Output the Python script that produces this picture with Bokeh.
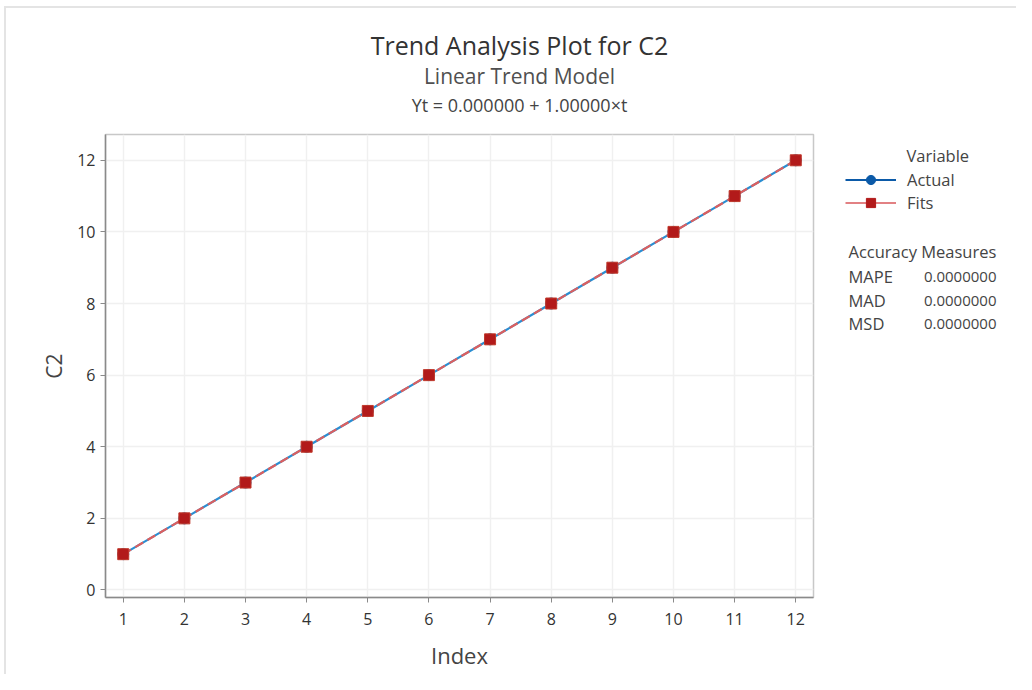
from bokeh.plotting import figure
from bokeh.layouts import column, row
from bokeh.models import Range1d, Legend, LegendItem, ColumnDataSource, FixedTicker
from bokeh.core.properties import value
from bokeh.embed import file_html
from bokeh.resources import INLINE

# ---- data ----
index = [1, 2, 3, 4, 5, 6, 7, 8, 9, 10, 11, 12]
actual = [1, 2, 3, 4, 5, 6, 7, 8, 9, 10, 11, 12]
fits = [1, 2, 3, 4, 5, 6, 7, 8, 9, 10, 11, 12]
x_ticks = [1, 2, 3, 4, 5, 6, 7, 8, 9, 10, 11, 12]
y_ticks = [0, 2, 4, 6, 8, 10, 12]
title_lines = ["Trend Analysis Plot for C2", "Linear Trend Model", "Yt = 0.000000 + 1.00000\u00d7t"]
series_names = ["Actual", "Fits"]
legend_title = "Variable"
measures_title = "Accuracy Measures"
measure_names = ["MAPE", "MAD", "MSD"]
measure_values = ["0.0000000", "0.0000000", "0.0000000"]

FONT = "Open Sans"
OX, OY = 6, 8            # offset of content inside the light frame border
RIGHT = 1016             # right edge of content
TOP_B = 126              # bottom of title strip
MAIN_R = 830             # right edge of main figure
BOTTOM = 674
FRAME_L, FRAME_T, FRAME_R, FRAME_B = 105, 134, 813, 597


def blank(width, height, xr, yr, **kw):
    f = figure(width=width, height=height, output_backend="svg", toolbar_location=None,
               x_range=xr, y_range=yr, x_axis_type=None, y_axis_type=None, **kw)
    f.outline_line_color = None
    f.grid.visible = False
    f.background_fill_color = "white"
    f.border_fill_color = "white"
    return f

# ---- title strip ----
top = blank(RIGHT - OX, TOP_B - OY, Range1d(OX, RIGHT), Range1d(TOP_B, OY), min_border=0)
tsrc = ColumnDataSource(dict(x=[519, 519, 519], y=[44, 75, 104], t=title_lines,
                             s=["25px", "21px", "18px"], c=["#333333", "#505050", "#444444"]))
top.text("x", "y", text="t", source=tsrc, text_font=value(FONT), text_font_size="s",
         text_color="c", text_align="center", text_baseline="middle")

# ---- main plot ----
p = figure(width=MAIN_R - OX, height=BOTTOM - TOP_B, output_backend="svg", toolbar_location=None,
           x_range=Range1d(0.71, 12.29), y_range=Range1d(-0.21, 12.72),
           min_border_left=FRAME_L - OX, min_border_right=MAIN_R - FRAME_R,
           min_border_top=FRAME_T - TOP_B, min_border_bottom=BOTTOM - FRAME_B)
p.background_fill_color = "white"
p.border_fill_color = "white"
p.outline_line_color = "#c8c8c8"
p.outline_line_width = 1.5

for ax in (p.xaxis[0], p.yaxis[0]):
    ax.axis_line_color = "#8a8a8a"
    ax.axis_line_width = 1.5
    ax.major_tick_line_color = "#8a8a8a"
    ax.major_tick_out = 5
    ax.major_tick_in = 0
    ax.minor_tick_line_color = None
    ax.major_label_text_font = FONT
    ax.major_label_text_font_size = "16px"
    ax.major_label_text_color = "#333333"
    ax.axis_label_text_font = FONT
    ax.axis_label_text_font_style = "normal"
    ax.axis_label_text_color = "#444444"

p.xaxis.axis_label_text_font_size = "22px"
p.yaxis.axis_label_text_font_size = "21px"
p.xaxis.ticker = FixedTicker(ticks=x_ticks)
p.yaxis.ticker = FixedTicker(ticks=y_ticks)
p.xaxis.axis_label = "Index"
p.yaxis.axis_label = "C2"
p.xaxis.axis_label_standoff = 12
p.yaxis.axis_label_standoff = 6
p.xaxis.major_label_standoff = 10
p.yaxis.major_label_standoff = 5

p.xgrid.grid_line_color = "#f0f0f0"
p.ygrid.grid_line_color = "#f0f0f0"
p.xgrid.grid_line_width = 1.5
p.ygrid.grid_line_width = 1.5

src = ColumnDataSource(dict(x=index, a=actual, f=fits))
p.line("x", "a", source=src, line_color="#2a8ed2", line_width=2.2)
p.scatter("x", "a", source=src, marker="circle", size=11, fill_color="#0b5aa8", line_color="#0b5aa8")
p.line("x", "f", source=src, line_color="#dc5f5f", line_width=2.2, line_dash="9 5")
p.scatter("x", "f", source=src, marker="square", size=11, fill_color="#b21a1a", line_color="#c0392b")

# ---- side panel: legend + accuracy measures ----
side = blank(RIGHT - MAIN_R, BOTTOM - TOP_B, Range1d(MAIN_R, RIGHT), Range1d(FRAME_B, FRAME_T),
             min_border_top=FRAME_T - TOP_B, min_border_bottom=BOTTOM - FRAME_B,
             min_border_left=0, min_border_right=0)

# legend proxies: first data point only, which falls outside this panel's ranges
proxy = ColumnDataSource(dict(x=index[:1], a=actual[:1], f=fits[:1]))
la = side.line("x", "a", source=proxy, line_color="#0b5aa8", line_width=2)
ma = side.scatter("x", "a", source=proxy, marker="circle", size=11, fill_color="#0b5aa8", line_color="#0b5aa8")
lf = side.line("x", "f", source=proxy, line_color="#d9575a", line_width=1.5)
mf = side.scatter("x", "f", source=proxy, marker="square", size=11, fill_color="#b21a1a", line_color="#b21a1a")

legend = Legend(items=[LegendItem(label=series_names[0], renderers=[la, ma]),
                       LegendItem(label=series_names[1], renderers=[lf, mf])],
                location=(15, 383), padding=0, margin=0, spacing=0,
                glyph_width=51, glyph_height=23, label_standoff=11,
                label_text_font=FONT, label_text_font_size="16.5px", label_text_color="#444444",
                border_line_color=None, background_fill_alpha=0)
side.add_layout(legend, "center")

row_y = [276, 300, 323]
side.text(x=[906, 848] + [848] * len(measure_names), y=[155, 251] + row_y,
          text=[legend_title, measures_title] + measure_names,
          text_font=value(FONT), text_font_size="16.5px",
          text_color="#444444", text_align="left", text_baseline="middle")
side.text(x=[996] * len(measure_values), y=row_y, text=measure_values,
          text_font=value(FONT), text_font_size="15px",
          text_color="#444444", text_align="right", text_baseline="middle")

layout = column(top, row(p, side, spacing=0), spacing=0,
                styles={"border-left": "2px solid #e4e4e4", "border-top": "2px solid #e4e4e4",
                        "margin-left": "4px", "margin-top": "6px"})
open("out.html", "w").write(file_html(layout, INLINE))
